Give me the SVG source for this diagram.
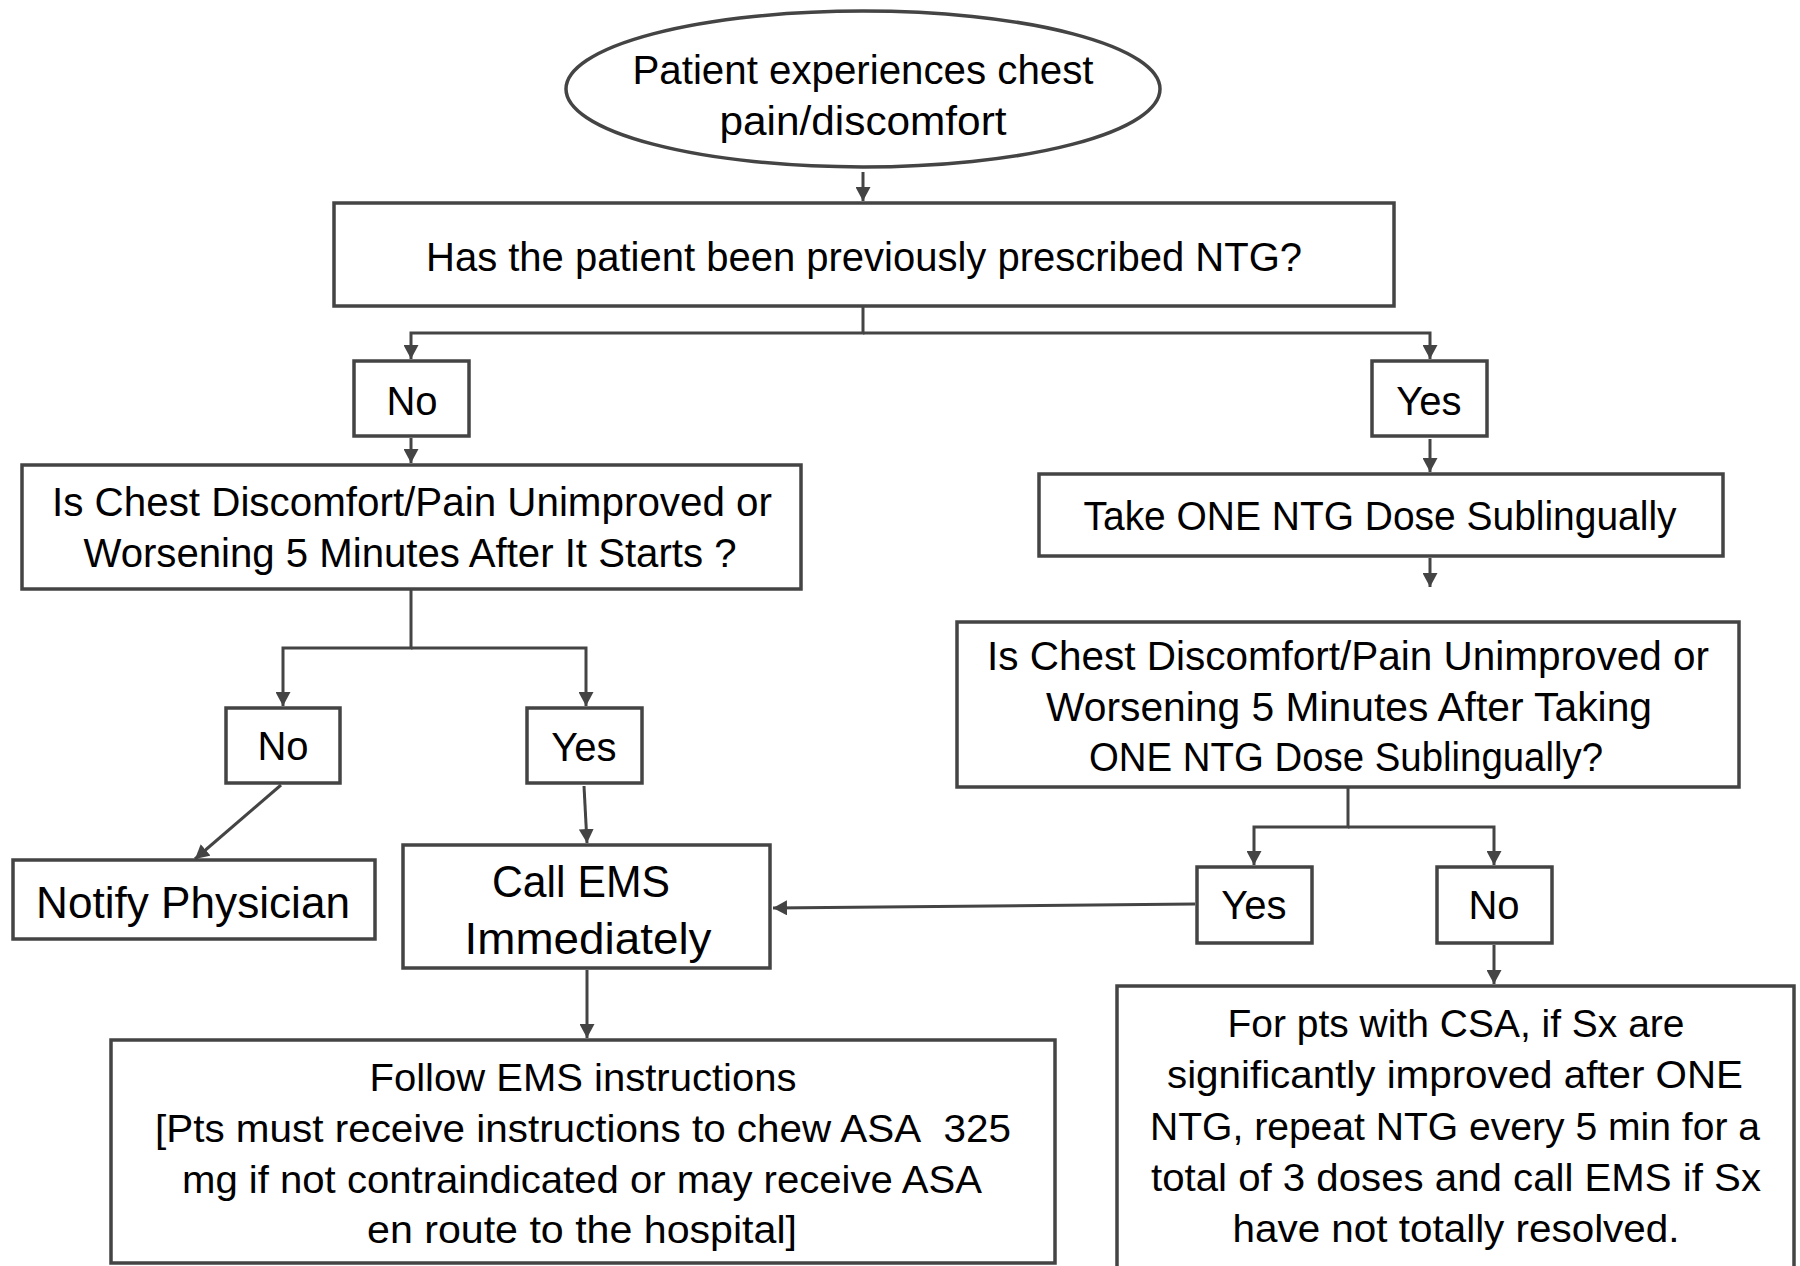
<svg xmlns="http://www.w3.org/2000/svg" width="1800" height="1266" viewBox="0 0 1800 1266">
<style>
.box{fill:#fff;stroke:#444;stroke-width:3.5}
.t{font-family:"Liberation Sans",Arial,sans-serif;font-size:40px;fill:#000;text-anchor:middle}
.s{font-size:38px}
.b{font-size:44px}
.c{fill:none;stroke:#444;stroke-width:3}
</style>
<defs>
<marker id="ah" markerUnits="userSpaceOnUse" markerWidth="15" markerHeight="15" refX="14" refY="7.5" orient="auto">
<path d="M0,0 L14,7.5 L0,15 Z" fill="#444"/>
</marker>
</defs>
<rect width="1800" height="1266" fill="#fff"/>

<g id="connectors">
<path class="c" d="M863,172 V201" marker-end="url(#ah)"/>
<path class="c" d="M863,306 V333 H411 V359" marker-end="url(#ah)"/>
<path class="c" d="M863,333 H1430 V359" marker-end="url(#ah)"/>
<path class="c" d="M411,438 V463" marker-end="url(#ah)"/>
<path class="c" d="M411,589 V648 H283 V706" marker-end="url(#ah)"/>
<path class="c" d="M411,648 H586 V706" marker-end="url(#ah)"/>
<path class="c" d="M281,785 L195,859" marker-end="url(#ah)"/>
<path class="c" d="M584,786 L587,843" marker-end="url(#ah)"/>
<path class="c" d="M587,970 V1038" marker-end="url(#ah)"/>
<path class="c" d="M1430,439 V472" marker-end="url(#ah)"/>
<path class="c" d="M1430,558 V587" marker-end="url(#ah)"/>
<path class="c" d="M1348,787 V827 H1254 V865" marker-end="url(#ah)"/>
<path class="c" d="M1348,827 H1494 V865" marker-end="url(#ah)"/>
<path class="c" d="M1195,904 L773,908" marker-end="url(#ah)"/>
<path class="c" d="M1494,945 V984" marker-end="url(#ah)"/>
</g>

<g id="start">
<ellipse class="box" cx="863" cy="89" rx="297" ry="78"/>
<text class="t" x="863" y="84" textLength="461" lengthAdjust="spacingAndGlyphs">Patient experiences chest</text>
<text class="t" x="863" y="135" textLength="287" lengthAdjust="spacingAndGlyphs">pain/discomfort</text>
</g>

<g id="q-prescribed">
<rect class="box" x="334" y="203" width="1060" height="103"/>
<text class="t" x="864" y="271" textLength="876" lengthAdjust="spacingAndGlyphs">Has the patient been previously prescribed NTG?</text>
</g>

<g id="no-1">
<rect class="box" x="354" y="361" width="115" height="75"/>
<text class="t" x="412" y="415">No</text>
</g>

<g id="yes-1">
<rect class="box" x="1372" y="361" width="115" height="75"/>
<text class="t" x="1429" y="415">Yes</text>
</g>

<g id="q-unimproved-start">
<rect class="box" x="22" y="465" width="779" height="124"/>
<text class="t" x="412" y="516" textLength="720" lengthAdjust="spacingAndGlyphs">Is Chest Discomfort/Pain Unimproved or</text>
<text class="t" x="410" y="567" textLength="653" lengthAdjust="spacingAndGlyphs">Worsening 5 Minutes After It Starts ?</text>
</g>

<g id="take-ntg">
<rect class="box" x="1039" y="474" width="684" height="82"/>
<text class="t" x="1380" y="530" textLength="593" lengthAdjust="spacingAndGlyphs">Take ONE NTG Dose Sublingually</text>
</g>

<g id="q-unimproved-ntg">
<rect class="box" x="957" y="622" width="782" height="165"/>
<text class="t" x="1348" y="670" textLength="722" lengthAdjust="spacingAndGlyphs">Is Chest Discomfort/Pain Unimproved or</text>
<text class="t" x="1349" y="721" textLength="606" lengthAdjust="spacingAndGlyphs">Worsening 5 Minutes After Taking</text>
<text class="t" x="1346" y="771" textLength="514" lengthAdjust="spacingAndGlyphs">ONE NTG Dose Sublingually?</text>
</g>

<g id="no-2">
<rect class="box" x="226" y="708" width="114" height="75"/>
<text class="t" x="283" y="760">No</text>
</g>

<g id="yes-2">
<rect class="box" x="527" y="708" width="115" height="75"/>
<text class="t" x="584" y="761">Yes</text>
</g>

<g id="yes-3">
<rect class="box" x="1197" y="867" width="115" height="76"/>
<text class="t" x="1254" y="919">Yes</text>
</g>

<g id="no-3">
<rect class="box" x="1437" y="867" width="115" height="76"/>
<text class="t" x="1494" y="919">No</text>
</g>

<g id="notify">
<rect class="box" x="13" y="860" width="362" height="79"/>
<text class="t b" x="193" y="918" textLength="314" lengthAdjust="spacingAndGlyphs">Notify Physician</text>
</g>

<g id="call-ems">
<rect class="box" x="403" y="845" width="367" height="123"/>
<text class="t b" x="581" y="897" textLength="178" lengthAdjust="spacingAndGlyphs">Call EMS</text>
<text class="t b" x="588" y="954" textLength="247" lengthAdjust="spacingAndGlyphs">Immediately</text>
</g>

<g id="follow-ems">
<rect class="box" x="111" y="1040" width="944" height="223"/>
<text class="t s" x="583" y="1091" textLength="427" lengthAdjust="spacingAndGlyphs">Follow EMS instructions</text>
<text class="t s" x="583" y="1142" textLength="856" lengthAdjust="spacingAndGlyphs">[Pts must receive instructions to chew ASA&#160; 325</text>
<text class="t s" x="582" y="1193" textLength="800" lengthAdjust="spacingAndGlyphs">mg if not contraindicated or may receive ASA</text>
<text class="t s" x="582" y="1243" textLength="430" lengthAdjust="spacingAndGlyphs">en route to the hospital]</text>
</g>

<g id="csa-repeat">
<rect class="box" x="1117" y="986" width="677" height="320"/>
<text class="t s" x="1456" y="1037" textLength="457" lengthAdjust="spacingAndGlyphs">For pts with CSA, if Sx are</text>
<text class="t s" x="1455" y="1088" textLength="576" lengthAdjust="spacingAndGlyphs">significantly improved after ONE</text>
<text class="t s" x="1455" y="1140" textLength="610" lengthAdjust="spacingAndGlyphs">NTG, repeat NTG every 5 min for a</text>
<text class="t s" x="1456" y="1191" textLength="610" lengthAdjust="spacingAndGlyphs">total of 3 doses and call EMS if Sx</text>
<text class="t s" x="1456" y="1242" textLength="447" lengthAdjust="spacingAndGlyphs">have not totally resolved.</text>
</g>
</svg>
